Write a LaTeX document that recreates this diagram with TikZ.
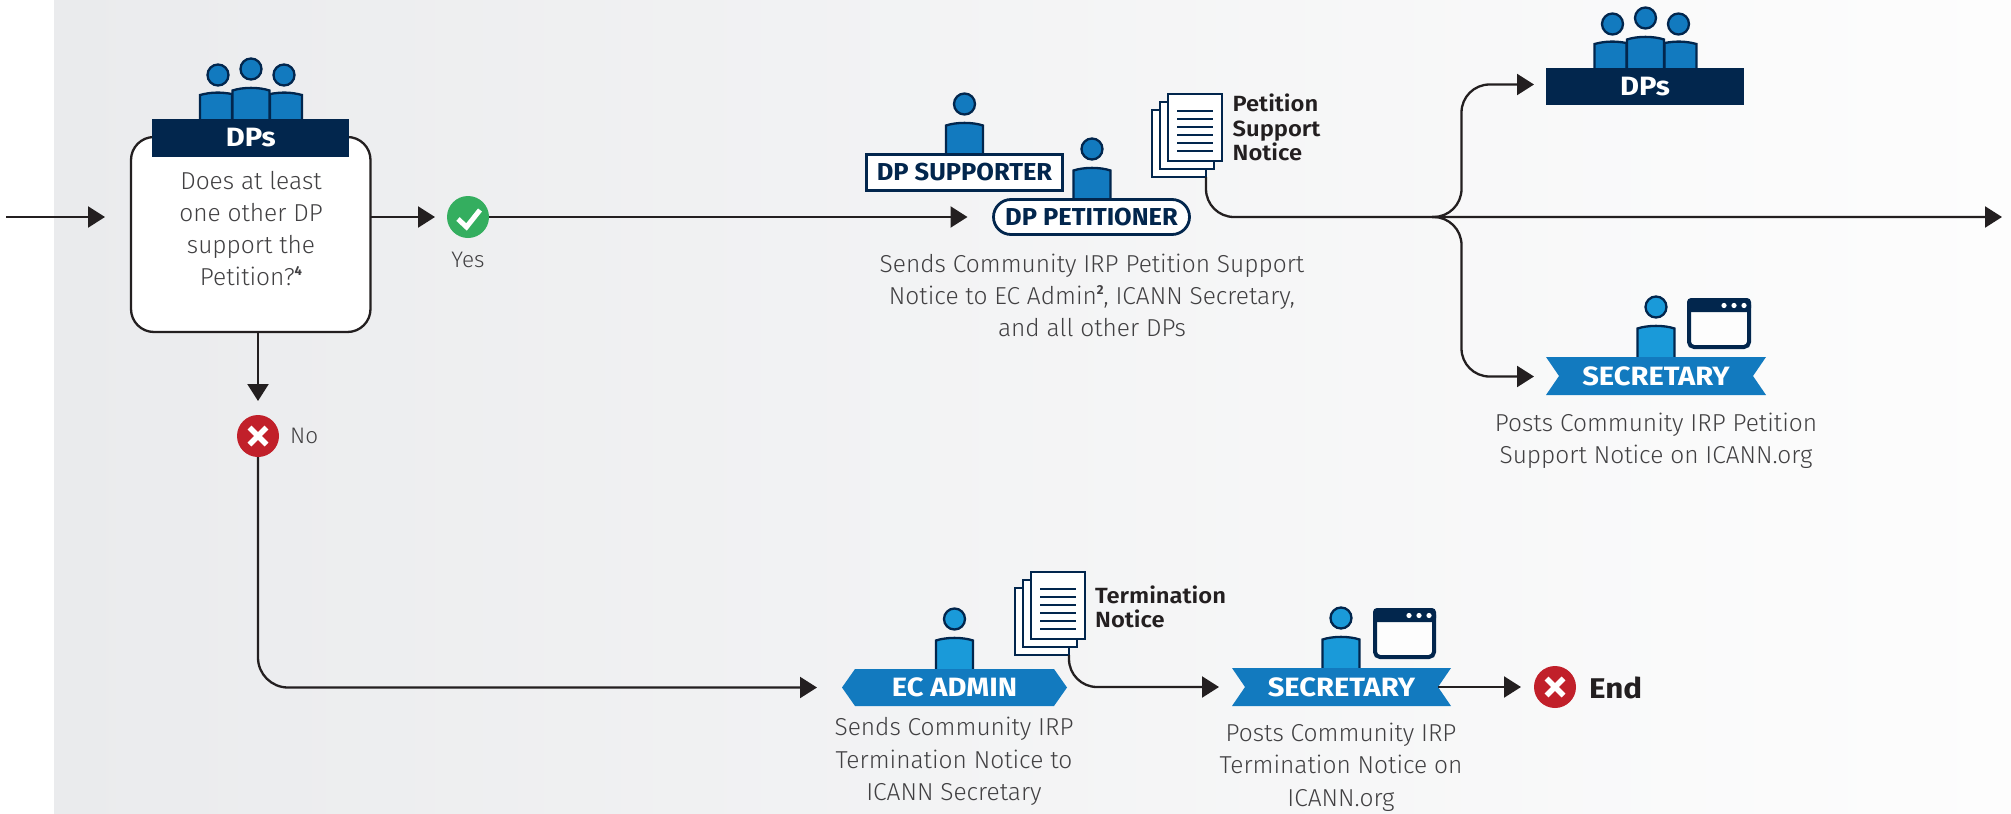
\documentclass[tikz,border=0pt]{standalone}
\usepackage{fontspec}
\setmainfont{Fira Sans}[UprightFont=* Light,BoldFont=* Bold]
\newfontfamily\bannerfont{Fira Sans}[UprightFont=* Bold,FakeStretch=1.1]
\newfontfamily\badgefont{Fira Sans}[UprightFont=* Bold,FakeStretch=1.04]
\newfontfamily\notefont{Fira Sans}[UprightFont=* SemiBold,FakeStretch=1.08]
\usetikzlibrary{arrows.meta}
\definecolor{navy}{HTML}{02264D}
\definecolor{midblue}{HTML}{127ABF}
\definecolor{liteblue}{HTML}{1A9AD9}
\definecolor{ink}{HTML}{231F20}
\definecolor{txt}{HTML}{414042}
\definecolor{okgreen}{HTML}{34AE5F}
\definecolor{nored}{HTML}{C1202A}
\definecolor{bgleft}{HTML}{EAEBED}
\definecolor{bgright}{HTML}{FDFDFD}
\newcommand\personicon[3]{% cx, bottom y, fill
  \draw[navy,line width=2.3pt,fill=#3] (#1-18.5,#2) -- (#1-18.5,#2-28.5)
    .. controls (#1-8,#2-32) and (#1+8,#2-32) .. (#1+18.5,#2-28.5) -- (#1+18.5,#2);
  \draw[navy,line width=2.3pt,fill=#3] (#1,#2-50) circle (10.5);
}
\newcommand\crowdicon[2]{% cx, bottom y
  \draw[navy,line width=2.3pt,fill=midblue] (#1-51,#2) -- (#1-51,#2-24)
    .. controls (#1-40,#2-27) and (#1-30,#2-27) .. (#1-19,#2-25) -- (#1-19,#2);
  \draw[navy,line width=2.3pt,fill=midblue] (#1+51,#2) -- (#1+51,#2-24)
    .. controls (#1+40,#2-27) and (#1+30,#2-27) .. (#1+19,#2-25) -- (#1+19,#2);
  \personicon{#1}{#2}{midblue}
  \draw[navy,line width=2.3pt,fill=midblue] (#1-33,#2-44) circle (10.5);
  \draw[navy,line width=2.3pt,fill=midblue] (#1+33,#2-44) circle (10.5);
}
\newcommand\windowicon[4]{% x1,y1,x2,y2
  \draw[navy,line width=4pt,fill=bgright,rounded corners=5pt] (#1+2,#2+2) rectangle (#3-2,#4-2);
  \fill[navy,rounded corners=4pt] (#1,#2) rectangle (#3,#2+14);
  \fill[white] (#3-27,#2+7.5) circle (2.6) (#3-17,#2+7.5) circle (2.6) (#3-7,#2+7.5) circle (2.6);
}
\newcommand\docicon[3]{% name, x, y of back sheet top-left
  \node[sheet,minimum width=54pt,minimum height=67pt,anchor=north west] (#1) at (#2,#3) {};
  \node[sheet,minimum width=54pt,minimum height=67pt,anchor=north west] (#1m) at (#2+8,#3-8) {};
  \node[sheet,minimum width=54pt,minimum height=67pt,anchor=north west] (#1f) at (#2+16,#3-16) {};
  \foreach \k in {0,...,5}
    \draw[navy,line width=2.2pt] (#2+25,#3+1.3+8*\k) -- (#2+61,#3+1.3+8*\k);
}
\newcommand\ribbon[4]{% x1,y1,x2,y2
  \fill[midblue] (#1,#2) -- (#3,#2) -- (#3-13,#2/2+#4/2) -- (#3,#4) -- (#1,#4) -- (#1+13,#2/2+#4/2) -- cycle;
}
\newcommand\lowered[1]{\raisebox{-1pt}{#1}}
\tikzset{
  flow/.style={draw=ink,line width=2.3pt},
  arrowflow/.style={flow,-{Triangle[length=17pt,width=21pt]}},
  sheet/.style={draw=navy,line width=2.7pt,fill=white,inner sep=0pt,outer sep=0pt},
  banner/.style={inner sep=0pt,outer sep=0pt,text=white,font=\fontsize{26.5}{26.5}\selectfont\bannerfont},
  badge/.style={draw=navy,line width=2.8pt,fill=white,text=navy,inner sep=0pt,outer sep=0pt,font=\fontsize{24.5}{24.5}\selectfont\badgefont},
  bodytext/.style={text=txt,align=center,inner sep=0pt,font=\fontsize{24.5}{32.3}\selectfont},
  doclabel/.style={text=ink,align=left,inner sep=0pt,anchor=west,font=\fontsize{22}{24.5}\selectfont\notefont},
  disc/.style={circle,minimum size=42pt,inner sep=0pt,outer sep=0pt},
}
\begin{document}
\begin{tikzpicture}[x=1pt,y=-1pt]
\useasboundingbox (0,0) rectangle (2011,814);
\fill[left color=bgleft,right color=bgright] (54,0) rectangle (2011,814);

% question box
\node[draw=ink,line width=2.3pt,fill=white,rounded corners=23pt,minimum width=239.5pt,minimum height=195pt,inner sep=0pt,outer sep=0pt] (qbox) at (250.75,234.5) {};
\crowdicon{251}{119}
\node[banner,fill=navy,minimum width=197pt,minimum height=38pt] (dpsa) at (250.75,138) {\lowered{DPs}};
\node[bodytext] (qtext) at (251,228.5) {Does at least\\one other DP\\support the\\Petition?\raisebox{.42em}{\fontsize{13}{13}\selectfont\bfseries 4}};

% yes / no
\node[disc,fill=okgreen] (yes) at (468,217) {};
\draw[white,line width=5pt] (458,219) -- (466.5,227) -- (480,210);
\node[text=txt,inner sep=0pt,font=\fontsize{22.5}{22.5}\selectfont] (yeslabel) at (468,260) {Yes};
\node[disc,fill=nored] (no) at (258,436) {};
\draw[white,line width=5.5pt] (249.5,427.5) -- (266.5,444.5) (249.5,444.5) -- (266.5,427.5);
\node[text=txt,inner sep=0pt,anchor=west,font=\fontsize{22.5}{22.5}\selectfont] (nolabel) at (290,436) {No};

% supporter and petitioner
\personicon{964.5}{154}{midblue}
\node[badge,minimum width=196pt,minimum height=36pt] (supporter) at (964.5,172.5) {DP SUPPORTER};
\personicon{1092}{199}{midblue}
\node[badge,rounded corners=17.5pt,minimum width=196pt,minimum height=35pt] (petitioner) at (1091.5,217) {\lowered{DP PETITIONER}};
\docicon{docpet}{1152}{110}
\node[doclabel] (petlabel) at (1232.5,127.5) {Petition\\Support\\Notice};
\node[bodytext] (pettext) at (1092,295.5) {Sends Community IRP Petition Support\\Notice to EC Admin\raisebox{.42em}{\fontsize{13}{13}\selectfont\bfseries 2}, ICANN Secretary,\\and all other DPs};

% top right DPs
\crowdicon{1645.5}{68}
\node[banner,fill=navy,minimum width=198pt,minimum height=37pt] (dpsb) at (1645,86.5) {\lowered{DPs}};

% upper secretary
\personicon{1656}{357}{liteblue}
\windowicon{1687}{298}{1751}{349}
\ribbon{1546}{357}{1766}{395}
\node[banner,minimum width=194pt,minimum height=38pt] (seca) at (1656,376.5) {\lowered{SECRETARY}};
\node[bodytext] (secatext) at (1656,441) {Posts Community IRP Petition\\Support Notice on ICANN.org};

% EC admin
\personicon{954.5}{669}{liteblue}
\fill[midblue] (842,687.5) -- (855,669) -- (1054,669) -- (1067,687.5) -- (1054,706) -- (855,706) -- cycle;
\node[banner,minimum width=225pt,minimum height=37pt] (ecadmin) at (954.5,687.5) {\lowered{EC ADMIN}};
\docicon{docterm}{1015}{588}
\node[doclabel] (termlabel) at (1095,607) {Termination\\Notice};
\node[bodytext] (ectext) at (954,761.5) {Sends Community IRP\\Termination Notice to\\ICANN Secretary};

% lower secretary
\personicon{1341}{668}{liteblue}
\windowicon{1373}{608}{1436}{659}
\ribbon{1232}{668}{1451}{706}
\node[banner,minimum width=193pt,minimum height=38pt] (secb) at (1341.5,687) {\lowered{SECRETARY}};
\node[bodytext] (secbtext) at (1341,767) {Posts Community IRP\\Termination Notice on\\ICANN.org};

% end
\node[disc,fill=nored] (endmark) at (1555,687) {};
\draw[white,line width=5.5pt] (1546.5,678.5) -- (1563.5,695.5) (1546.5,695.5) -- (1563.5,678.5);
\node[text=ink,inner sep=0pt,anchor=west,font=\fontsize{28.5}{28.5}\selectfont\bannerfont] (endlabel) at (1589,688) {End};

% connectors
\coordinate (infrom) at (6,217);
\coordinate (outto) at (2002,217);
\coordinate (branch) at (1432,217);
\coordinate (branchx) at (1461.5,217);
\draw[arrowflow,shorten >=26pt] (infrom) -- (qbox.west |- infrom);
\draw[arrowflow,shorten >=12pt] (qbox.east |- yes) -- (yes.west);
\draw[arrowflow,shorten >=26pt] (yes.east) -- (petitioner.west);
\draw[arrowflow,shorten >=14pt] (no |- qbox.south) -- (no.north);
\draw[arrowflow,rounded corners=30pt,shorten >=25pt] (no.south) |- (ecadmin.west);
\draw[arrowflow,rounded corners=28pt] (docpet.south east) |- (outto);
\draw[arrowflow,rounded corners=28pt,shorten >=12pt] (branch) -- (branchx) |- ([yshift=2pt]dpsb.west);
\draw[arrowflow,rounded corners=28pt,shorten >=25pt] (branch) -- (branchx) |- (seca.west);
\draw[arrowflow,rounded corners=28pt,shorten >=26pt] (docterm.south east) |- (secb.west);
\draw[arrowflow,shorten >=13pt] (secb.east) -- (endmark.west);
\end{tikzpicture}
\end{document}
